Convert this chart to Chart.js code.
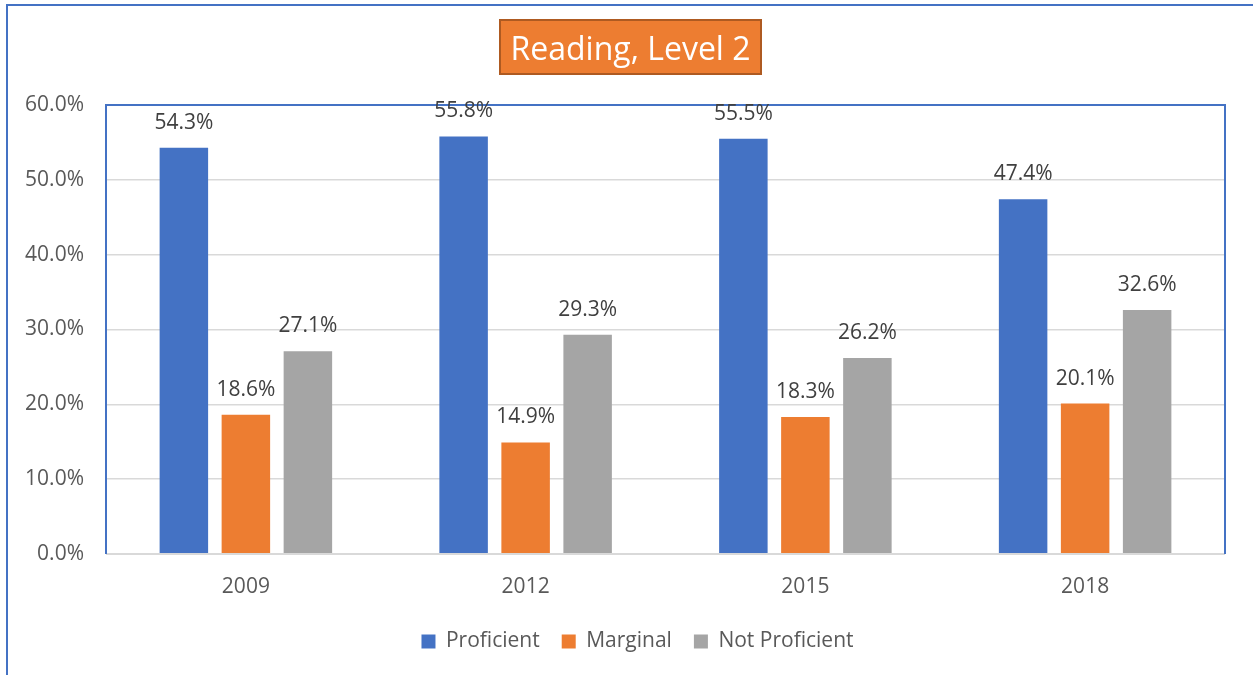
<!DOCTYPE html>
<html>
<head>
<meta charset="utf-8">
<title>Reading, Level 2</title>
<script src="https://cdn.jsdelivr.net/npm/chart.js@4.4.1/dist/chart.umd.min.js"></script>
<style>
  html, body { margin: 0; padding: 0; background: #ffffff; }
  #wrap { position: relative; width: 1253px; height: 675px; }
  canvas { display: block; }
</style>
</head>
<body>
<div id="wrap"><canvas id="chart" width="1253" height="675"></canvas></div>
<script>
// Survey years on the category axis
const years = ['2009', '2012', '2015', '2018'];

// Share of students in each band (percent)
const proficient    = [54.3, 55.8, 55.5, 47.4];
const marginal      = [18.6, 14.9, 18.3, 20.1];
const notProficient = [27.1, 29.3, 26.2, 32.6];

const seriesNames = ['Proficient', 'Marginal', 'Not Proficient'];
const chartTitle = 'Reading, Level 2';

// Value axis range and step (percent)
const yMin = 0;
const yMax = 60;
const yStep = 10;

const FONT = '"Open Sans", "DejaVu Sans", sans-serif';
const BLUE = '#4472C4';
const ORANGE = '#ED7D31';
const GREY = '#A5A5A5';

const pct = v => v.toFixed(1) + '%';

// Page frame, the orange title badge, and a small nudge of the legend row
const framePlugin = {
  id: 'frame',
  beforeDraw(chart) {
    const ctx = chart.ctx;
    ctx.save();
    ctx.fillStyle = '#ffffff';
    ctx.fillRect(0, 0, chart.width, chart.height);

    ctx.strokeStyle = BLUE;
    ctx.lineWidth = 2;
    ctx.beginPath();
    ctx.moveTo(7, chart.height);
    ctx.lineTo(7, 5);
    ctx.lineTo(chart.width, 5);
    ctx.stroke();

    // title badge
    const bx = 500, by = 20, bw = 261, bh = 54;
    ctx.fillStyle = ORANGE;
    ctx.fillRect(bx, by, bw, bh);
    ctx.strokeStyle = '#AE5A21';
    ctx.lineWidth = 2;
    ctx.strokeRect(bx, by, bw, bh);
    ctx.fillStyle = '#ffffff';
    ctx.font = '32px ' + FONT;
    ctx.textAlign = 'center';
    ctx.textBaseline = 'alphabetic';
    ctx.fillText(chartTitle, bx + bw / 2, 60);
    ctx.restore();

    // centre the legend row on the whole page rather than the plot's left part
    const lg = chart.legend;
    if (lg && !lg._shifted) {
      lg.left += 50;
      lg._shifted = true;
    }
  }
};

// Plot-area outline and the value printed above every bar
const labelPlugin = {
  id: 'barLabels',
  afterDatasetsDraw(chart) {
    const ctx = chart.ctx;
    const a = chart.chartArea;
    ctx.save();
    ctx.lineWidth = 2;
    ctx.strokeStyle = '#D9D9D9';
    ctx.beginPath();
    ctx.moveTo(a.left, a.bottom);
    ctx.lineTo(a.right, a.bottom);
    ctx.stroke();
    ctx.strokeStyle = BLUE;
    ctx.beginPath();
    ctx.moveTo(a.left, a.bottom);
    ctx.lineTo(a.left, a.top);
    ctx.lineTo(a.right, a.top);
    ctx.lineTo(a.right, a.bottom);
    ctx.stroke();

    ctx.fillStyle = '#404040';
    ctx.font = '21px ' + FONT;
    ctx.textAlign = 'center';
    ctx.textBaseline = 'alphabetic';
    chart.data.datasets.forEach((ds, i) => {
      const meta = chart.getDatasetMeta(i);
      meta.data.forEach((bar, j) => {
        ctx.fillText(pct(ds.data[j]), bar.x, bar.y - 19);
      });
    });
    ctx.restore();
  }
};

new Chart(document.getElementById('chart'), {
  type: 'bar',
  data: {
    labels: years,
    datasets: [
      { label: seriesNames[0], data: proficient,    backgroundColor: BLUE },
      { label: seriesNames[1], data: marginal,      backgroundColor: ORANGE },
      { label: seriesNames[2], data: notProficient, backgroundColor: GREY }
    ]
  },
  options: {
    responsive: false,
    animation: false,
    devicePixelRatio: 1,
    categoryPercentage: 0.665,
    barPercentage: 0.782,
    layout: { padding: { top: 105, right: 28, left: 0, bottom: 13 } },
    plugins: {
      title: { display: false },
      tooltip: { enabled: false },
      legend: {
        position: 'bottom',
        labels: {
          color: '#595959',
          font: { family: FONT, size: 21 },
          boxWidth: 14,
          boxHeight: 14,
          padding: 22
        }
      }
    },
    scales: {
      x: {
        grid: { display: false },
        border: { display: false },
        ticks: { color: '#595959', font: { family: FONT, size: 21 }, padding: 12 },
        afterFit(scale) { scale.height = 55; }
      },
      y: {
        min: yMin,
        max: yMax,
        grid: { color: '#D9D9D9', lineWidth: 1.5, drawTicks: false },
        border: { display: false },
        ticks: {
          stepSize: yStep,
          color: '#595959',
          font: { family: FONT, size: 21 },
          padding: 22,
          callback: v => pct(v)
        },
        afterFit(scale) { scale.width = 106; }
      }
    }
  },
  plugins: [framePlugin, labelPlugin]
});
</script>
</body>
</html>
